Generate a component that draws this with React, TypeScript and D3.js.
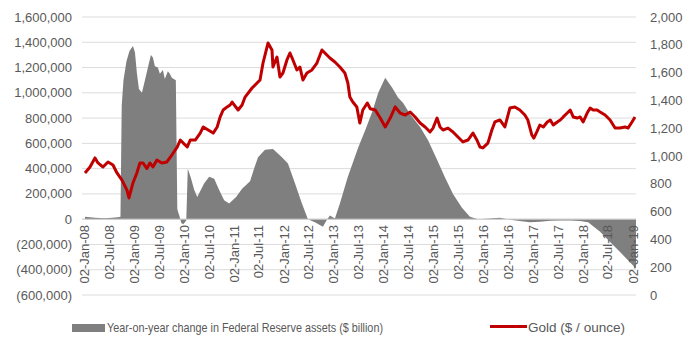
import React from "react";
import * as d3 from "d3";

const W = 698;
const H = 337;

// Fed Reserve assets YoY change; date as decimal year
const fedYears = [
  2008.01, 2008.21, 2008.41, 2008.55, 2008.67, 2008.72, 2008.745, 2008.78, 2008.84, 2008.9,
  2008.97, 2009.01, 2009.05, 2009.09, 2009.15, 2009.21, 2009.27, 2009.33, 2009.37, 2009.41,
  2009.47, 2009.51, 2009.57, 2009.61, 2009.67, 2009.71, 2009.75, 2009.83, 2009.86, 2009.88,
  2009.9, 2009.94, 2009.98, 2010.04, 2010.07, 2010.13, 2010.2, 2010.26, 2010.4, 2010.5,
  2010.6, 2010.7, 2010.8, 2010.9, 2011.04, 2011.16, 2011.32, 2011.4, 2011.48, 2011.62,
  2011.78, 2011.96, 2012.08, 2012.22, 2012.36, 2012.48, 2012.62, 2012.78, 2012.86, 2012.92,
  2013.02, 2013.12, 2013.28, 2013.49, 2013.63, 2013.77, 2013.89, 2014.03, 2014.17, 2014.29,
  2014.39, 2014.53, 2014.73, 2014.89, 2015.07, 2015.23, 2015.39, 2015.57, 2015.73, 2015.89,
  2016.13, 2016.33, 2016.53, 2016.73, 2016.93, 2017.13, 2017.34, 2017.54, 2017.74, 2017.94,
  2018.1, 2018.34, 2018.54, 2018.74, 2018.94, 2019.06,
];
const fedValues = [
  20000, 12000, 8000, 12000, 15000, 20000, 900000, 1100000, 1250000, 1330000,
  1370000, 1320000, 1150000, 1030000, 1000000, 1100000, 1200000, 1300000, 1280000, 1210000,
  1200000, 1150000, 1180000, 1110000, 1170000, 1150000, 1120000, 1100000, 80000, 50000,
  30000, -30000, -40000, -10000, 400000, 330000, 230000, 175000, 285000, 335000,
  320000, 230000, 150000, 125000, 175000, 240000, 300000, 400000, 490000, 550000,
  555000, 490000, 440000, 285000, 125000, 0, -25000, -60000, -5000, 30000,
  5000, 125000, 335000, 570000, 705000, 850000, 1000000, 1120000, 1040000, 960000,
  920000, 830000, 730000, 625000, 470000, 330000, 200000, 90000, 20000, 0,
  5000, 12000, -5000, -15000, -25000, -20000, -12000, -10000, -10000, -15000,
  -25000, -100000, -180000, -260000, -340000, -390000,
];

const goldYears = [
  2008.01, 2008.11, 2008.21, 2008.27, 2008.37, 2008.47, 2008.57, 2008.65, 2008.75, 2008.85,
  2008.89, 2008.97, 2009.05, 2009.11, 2009.17, 2009.25, 2009.31, 2009.37, 2009.45, 2009.55,
  2009.65, 2009.75, 2009.86, 2009.92, 2009.98, 2010.06, 2010.12, 2010.22, 2010.32, 2010.38,
  2010.48, 2010.58, 2010.66, 2010.72, 2010.78, 2010.86, 2010.92, 2010.96, 2011.08, 2011.16,
  2011.22, 2011.36, 2011.46, 2011.52, 2011.58, 2011.66, 2011.68, 2011.76, 2011.78, 2011.86,
  2011.92, 2011.98, 2012.06, 2012.12, 2012.18, 2012.26, 2012.32, 2012.38, 2012.46, 2012.56,
  2012.66, 2012.76, 2012.82, 2012.92, 2013.02, 2013.12, 2013.22, 2013.28, 2013.32, 2013.38,
  2013.46, 2013.52, 2013.58, 2013.67, 2013.73, 2013.83, 2013.93, 2014.03, 2014.13, 2014.23,
  2014.33, 2014.43, 2014.53, 2014.63, 2014.73, 2014.83, 2014.93, 2014.99, 2015.07, 2015.13,
  2015.19, 2015.29, 2015.39, 2015.49, 2015.59, 2015.69, 2015.79, 2015.87, 2015.93, 2015.99,
  2016.09, 2016.17, 2016.23, 2016.33, 2016.43, 2016.53, 2016.63, 2016.73, 2016.83, 2016.89,
  2016.97, 2017.01, 2017.07, 2017.13, 2017.2, 2017.28, 2017.34, 2017.4, 2017.48, 2017.54,
  2017.6, 2017.68, 2017.74, 2017.8, 2017.88, 2017.94, 2018.0, 2018.08, 2018.14, 2018.2,
  2018.28, 2018.34, 2018.44, 2018.54, 2018.64, 2018.74, 2018.84, 2018.9, 2018.98, 2019.04,
];
const goldValues = [
  878, 921, 986, 950, 921, 957, 935, 878, 827, 755,
  698, 806, 880, 950, 950, 910, 950, 921, 971, 950,
  957, 1007, 1065, 1115, 1093, 1065, 1115, 1115, 1165, 1209,
  1187, 1165, 1209, 1281, 1331, 1353, 1367, 1388, 1331, 1367,
  1424, 1489, 1525, 1547, 1669, 1784, 1813, 1763, 1640, 1712,
  1568, 1597, 1691, 1741, 1691, 1619, 1640, 1547, 1597, 1619,
  1669, 1763, 1741, 1705, 1676, 1640, 1597, 1525, 1424, 1388,
  1353, 1237, 1331, 1381, 1340, 1331, 1273, 1209, 1273, 1353,
  1309, 1295, 1317, 1281, 1237, 1209, 1173, 1201, 1273, 1209,
  1187, 1201, 1173, 1137, 1101, 1115, 1165, 1115, 1065, 1058,
  1093, 1187, 1245, 1259, 1209, 1345, 1353, 1331, 1295, 1259,
  1151, 1129, 1173, 1223, 1209, 1245, 1259, 1223, 1245, 1259,
  1281, 1309, 1331, 1281, 1273, 1281, 1245, 1309, 1345, 1331,
  1331, 1317, 1295, 1259, 1201, 1201, 1209, 1201, 1245, 1281,
];

const leftTicks = [1600000, 1400000, 1200000, 1000000, 800000, 600000, 400000, 200000, 0, -200000, -400000, -600000];
const rightTicks = [2000, 1800, 1600, 1400, 1200, 1000, 800, 600, 400, 200, 0];
const tickYears = [2008, 2009, 2010, 2011, 2012, 2013, 2014, 2015, 2016, 2017, 2018, 2019];

const legendFed = "Year-on-year change in Federal Reserve assets ($ billion)";
const legendGold = "Gold ($ / ounce)";

function fromDecimal(v: number): Date {
  const y0 = Math.floor(v);
  const a = new Date(y0, 0, 2).getTime();
  const b = new Date(y0 + 1, 0, 2).getTime();
  return new Date(a + (v - y0) * (b - a));
}

const FONT = "'Liberation Sans', Arial, sans-serif";
const TXT = "#595959";

export default function App() {
  const x = d3
    .scaleTime()
    .domain([new Date(2008, 0, 2), new Date(2019, 0, 2)])
    .range([84.5, 633]);
  const yL = d3.scaleLinear().domain([-600000, 1600000]).range([295, 17]);
  const yR = d3.scaleLinear().domain([0, 2000]).range([295, 17]);

  const fed = fedYears.map((t, i) => ({ d: fromDecimal(t), v: fedValues[i] }));
  const gold = goldYears.map((t, i) => ({ d: fromDecimal(t), v: goldValues[i] }));

  const area = d3
    .area<{ d: Date; v: number }>()
    .x((p) => x(p.d))
    .y0(yL(0))
    .y1((p) => yL(p.v));
  const line = d3
    .line<{ d: Date; v: number }>()
    .x((p) => x(p.d))
    .y((p) => yR(p.v));

  const xTicks: Date[] = [];
  tickYears.forEach((yr) => {
    xTicks.push(new Date(yr, 0, 2));
    if (yr < 2019) xTicks.push(new Date(yr, 6, 2));
  });
  const fmtX = d3.timeFormat("%d-%b-%y");
  const fmtL = (v: number) => (v < 0 ? `(${d3.format(",")(-v)})` : d3.format(",")(v));
  const fmtR = d3.format(",");

  return (
    <svg
      width={W}
      height={H}
      style={{ position: "absolute", left: 0, top: 0, background: "#fff" }}
      fontFamily={FONT}
    >
      <rect x={0} y={0} width={W} height={H} fill="#fff" />
      {leftTicks.map((t) => (
        <line key={"g" + t} x1={82} x2={636} y1={yL(t)} y2={yL(t)} stroke="#dcdcdc" strokeWidth={1} />
      ))}
      <path d={area(fed) || ""} fill="#7f7f7f" />
      <line x1={82} x2={636} y1={yL(0)} y2={yL(0)} stroke="#d0d0d0" strokeWidth={1} />
      <path d={line(gold) || ""} fill="none" stroke="#c00000" strokeWidth={3} strokeLinejoin="round" />
      {leftTicks.map((t) => (
        <text key={"l" + t} x={72} y={yL(t)} dy="0.35em" textAnchor="end" fontSize={13} fill={TXT}>
          {fmtL(t)}
        </text>
      ))}
      {rightTicks.map((t) => (
        <text key={"r" + t} x={650} y={yR(t)} dy="0.35em" textAnchor="start" fontSize={13} fill={TXT}>
          {fmtR(t)}
        </text>
      ))}
      {xTicks.map((d) => (
        <text
          key={"x" + d.getTime()}
          transform={`translate(${x(d)},${225}) rotate(-90)`}
          dy="0.35em"
          textAnchor="end"
          fontSize={13}
          fill={TXT}
        >
          {fmtX(d)}
        </text>
      ))}
      <rect x={72} y={324} width={33} height={8} fill="#7f7f7f" />
      <text x={107} y={332} fontSize={13} fill={TXT} textLength={276} lengthAdjust="spacingAndGlyphs">
        {legendFed}
      </text>
      <line x1={490} x2={527} y1={326.5} y2={326.5} stroke="#c00000" strokeWidth={3} />
      <text x={528} y={332} fontSize={13} fill={TXT} textLength={97} lengthAdjust="spacingAndGlyphs">
        {legendGold}
      </text>
    </svg>
  );
}
